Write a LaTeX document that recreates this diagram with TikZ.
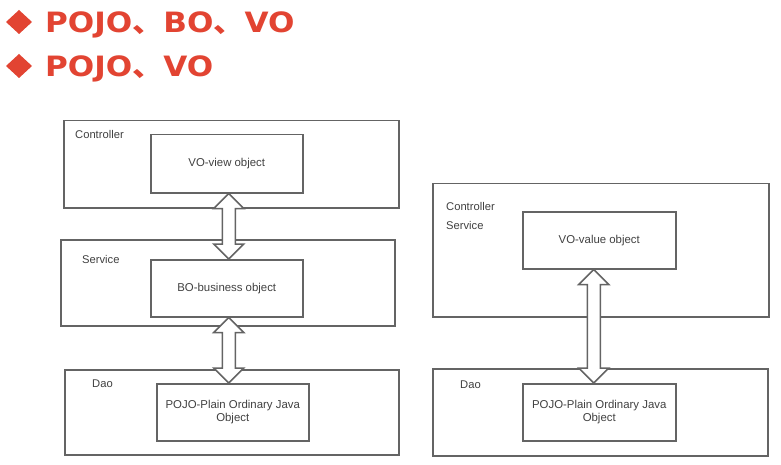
\documentclass[tikz,border=0pt]{standalone}
\usepackage{fontspec}
\setmainfont{Liberation Sans}
\newfontfamily\cjk{Noto Sans CJK SC}
\newfontfamily\ttlfont{DejaVu Sans}
\usetikzlibrary{calc}
\definecolor{titlered}{RGB}{226,68,50}
\definecolor{boxgray}{RGB}{100,100,100}
\definecolor{txtgray}{RGB}{65,65,65}
\newcommand\dblblockarrow[2]{%
  \draw[blk] (#1) -- ++(15,15) -- ++(-8.5,0) -- ($(#2)+(6.5,-15)$) -- ++(8.5,0) -- (#2)
    -- ++(-15,-15) -- ++(8.5,0) -- ($(#1)+(-6.5,15)$) -- ++(-8.5,0) -- cycle;}
\newcommand\ttlsep{{\cjk\bfseries 、}}
\begin{document}
\begin{tikzpicture}[x=1pt,y=-1pt,
  layer/.style={draw=boxgray, line width=1.5pt, anchor=north west, inner sep=0pt},
  obj/.style={draw=boxgray, line width=1.5pt, fill=white, anchor=north west, inner sep=0pt,
    text=txtgray, font=\fontsize{11.4}{13}\selectfont, align=center},
  lbl/.style={anchor=base west, inner sep=0pt, text=txtgray, font=\fontsize{11.2}{13}\selectfont},
  blk/.style={draw=boxgray, line width=1.5pt, fill=white, line join=miter},
  ttl/.style={anchor=base west, inner sep=0pt, text=titlered, font=\ttlfont\bfseries\fontsize{28}{28}\selectfont},
  dia/.style={fill=titlered}]
\useasboundingbox[fill=white] (0,0) rectangle (781,465);

% title
\fill[dia] (19,10) -- (32,22) -- (19,34) -- (6,22) -- cycle;
\node[ttl] (t1) at (45,33) {\scalebox{1.11}[1]{POJO\ttlsep BO\ttlsep VO}};
\fill[dia] (19,54) -- (32,66) -- (19,78) -- (6,66) -- cycle;
\node[ttl] (t2) at (45,77) {\scalebox{1.11}[1]{POJO\ttlsep VO}};

% left diagram
\node[layer, minimum width=335pt, minimum height=87pt] (ctrlL) at (63,120) {};
\node[lbl] (ctrlLl) at (75,139) {Controller};
\node[obj, minimum width=152pt, minimum height=58pt] (vo) at (150,134) {VO-view object};

\node[layer, minimum width=334pt, minimum height=86pt] (servL) at (60,239) {};
\node[lbl] (servLl) at (82,263) {Service};
\node[obj, minimum width=152pt, minimum height=57pt] (bo) at (150,259) {BO-business object};

\node[layer, minimum width=334pt, minimum height=85pt] (daoL) at (64,369) {};
\node[lbl] (daoLl) at (92,387) {Dao};
\node[obj, minimum width=152pt, minimum height=57pt] (pojoL) at (156,383) {POJO-Plain Ordinary Java\\Object};

% right diagram
\node[layer, minimum width=336pt, minimum height=133pt] (ctrlR) at (432,183) {};
\node[lbl] (ctrlRl) at (446,210) {Controller};
\node[lbl] (servRl) at (446,229) {Service};
\node[obj, minimum width=153pt, minimum height=57pt] (vv) at (522,211) {VO-value object};

\node[layer, minimum width=335pt, minimum height=87pt] (daoR) at (432,368) {};
\node[lbl] (daoRl) at (460,388) {Dao};
\node[obj, minimum width=153pt, minimum height=57pt] (pojoR) at (522,383) {POJO-Plain Ordinary Java\\Object};

% arrows
\coordinate (a1t) at ($(vo.south)+(2,0)$);
\coordinate (a1b) at (a1t |- bo.north);
\dblblockarrow{a1t}{a1b}
\coordinate (a2t) at ($(bo.south)+(2,0)$);
\coordinate (a2b) at (a2t |- pojoL.north);
\dblblockarrow{a2t}{a2b}
\coordinate (a3t) at ($(vv.south)+(-5.5,0)$);
\coordinate (a3b) at (a3t |- pojoR.north);
\dblblockarrow{a3t}{a3b}
\end{tikzpicture}
\end{document}
